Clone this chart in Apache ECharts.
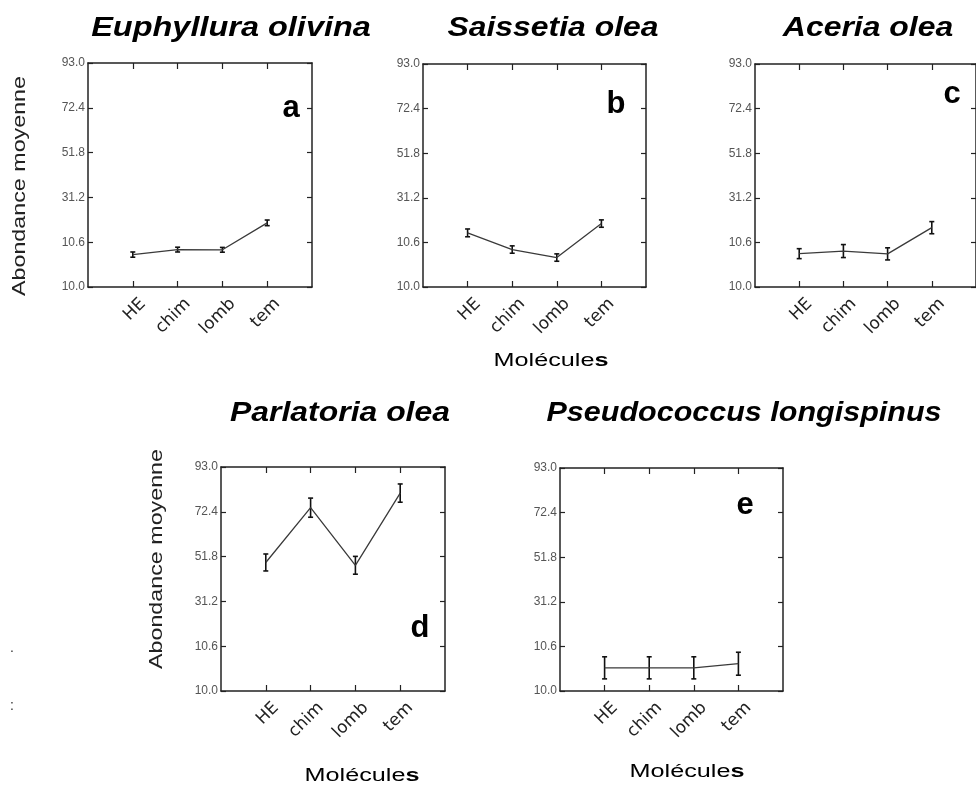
<!DOCTYPE html>
<html>
<head>
<meta charset="utf-8">
<script src="https://cdn.jsdelivr.net/npm/echarts@6/dist/echarts.min.js"></script>
<style>
  html, body { margin: 0; padding: 0; background: #ffffff; }
  #chart { width: 976px; height: 789px; }
</style>
</head>
<body>
<div id="chart"></div>
<script>
// Treatments (molecules) shown on every panel
const categories = ['HE', 'chim', 'lomb', 'tem'];

// Shared value axis: ticks and the text printed beside them
const yTickValues = [-10.0, 10.6, 31.2, 51.8, 72.4, 93.0];
const yTickLabels = ['10.0', '10.6', '31.2', '51.8', '72.4', '93.0'];

// Species (panel titles) and panel letters
const species = ['Euphyllura olivina', 'Saissetia olea', 'Aceria olea', 'Parlatoria olea', 'Pseudococcus longispinus'];
const panelLetters = ['a', 'b', 'c', 'd', 'e'];

// Mean abundance per molecule and half-width of the interval
const meansEuphyllura = [4.9, 7.2, 7.1, 19.5];
const errEuphyllura   = [1.2, 1.1, 1.1, 1.3];
const meansSaissetia  = [15.0, 7.3, 3.6, 19.3];
const errSaissetia    = [1.8, 1.7, 1.7, 1.7];
const meansAceria     = [5.4, 6.6, 5.3, 17.4];
const errAceria       = [2.3, 3.0, 2.8, 2.8];
const meansParlatoria = [49.1, 74.3, 47.8, 81.0];
const errParlatoria   = [3.9, 4.4, 4.1, 4.2];
const meansPseudo     = [0.7, 0.7, 0.7, 2.6];
const errPseudo       = [5.1, 5.1, 5.1, 5.3];

const seriesMeans = [meansEuphyllura, meansSaissetia, meansAceria, meansParlatoria, meansPseudo];
const seriesErrs  = [errEuphyllura, errSaissetia, errAceria, errParlatoria, errPseudo];

// Panel placement (pixels)
const layout = [
  { grid: { left: 88,  top: 63,  width: 224, height: 224 }, title: [231, 28],  titleScale: 1.16, letter: [291, 108], yName: [20, 186],  xName: null },
  { grid: { left: 423, top: 64,  width: 223, height: 223 }, title: [553, 28],  titleScale: 1.14, letter: [616, 104], yName: null,       xName: [551, 361] },
  { grid: { left: 755, top: 64,  width: 224, height: 223 }, title: [868, 28],  titleScale: 1.14, letter: [952, 94],  yName: null,       xName: null },
  { grid: { left: 221, top: 467, width: 224, height: 224 }, title: [340, 413], titleScale: 1.14, letter: [420, 628], yName: [157, 559], xName: [362, 776] },
  { grid: { left: 560, top: 468, width: 223, height: 223 }, title: [744, 413], titleScale: 1.09, letter: [745, 505], yName: null,       xName: [687, 772] }
];

const AXIS_COLOR = '#222';
const catPositions = categories.map((c, i) => i + 1);

function yLabel(v) {
  const k = yTickValues.findIndex(t => Math.abs(t - v) < 1e-6);
  return k >= 0 ? yTickLabels[k] : '';
}

const grids = [], xAxes = [], yAxes = [], series = [], graphics = [];

layout.forEach((p, i) => {
  grids.push(Object.assign({ containLabel: false }, p.grid));

  const lineCommon = { show: true, onZero: false, lineStyle: { color: AXIS_COLOR, width: 1.5 } };
  const tickX = { show: true, inside: true, length: 6, customValues: catPositions, lineStyle: { color: AXIS_COLOR, width: 1.2 } };
  const tickY = { show: true, inside: true, length: 5, customValues: yTickValues, lineStyle: { color: AXIS_COLOR, width: 1.2 } };

  // bottom category axis (positions 1..4 inside a 0..5 frame)
  xAxes.push({
    gridIndex: i, type: 'value', min: 0, max: 5, position: 'bottom',
    axisLine: lineCommon, axisTick: tickX, splitLine: { show: false },
    axisLabel: {
      customValues: catPositions,
      formatter: v => categories[Math.round(v) - 1] || '',
      showMinLabel: true, showMaxLabel: true, hideOverlap: false,
      rotate: 45, margin: 4, fontSize: 17, fontFamily: 'DejaVu Sans',
      color: '#222', verticalAlign: 'top', lineHeight: 29
    }
  });
  // top mirror axis (ticks only)
  xAxes.push({
    gridIndex: i, type: 'value', min: 0, max: 5, position: 'top',
    axisLine: lineCommon, axisTick: tickX, axisLabel: { show: false }, splitLine: { show: false }
  });
  // left value axis
  yAxes.push({
    gridIndex: i, type: 'value', min: -10, max: 93, position: 'left',
    axisLine: lineCommon, axisTick: tickY, splitLine: { show: false },
    axisLabel: {
      customValues: yTickValues, formatter: yLabel, margin: 3,
      showMinLabel: true, showMaxLabel: true, hideOverlap: false,
      fontSize: 12, fontFamily: 'Liberation Sans', color: '#555'
    }
  });
  // right mirror axis (ticks only)
  yAxes.push({
    gridIndex: i, type: 'value', min: -10, max: 93, position: 'right',
    axisLine: lineCommon, axisTick: tickY, axisLabel: { show: false }, splitLine: { show: false }
  });

  const means = seriesMeans[i], errs = seriesErrs[i];

  series.push({
    type: 'line', xAxisIndex: 2 * i, yAxisIndex: 2 * i,
    data: means.map((m, k) => [catPositions[k], m]),
    symbol: 'none', silent: true, animation: false,
    lineStyle: { color: '#3a3a3a', width: 1.3 }
  });

  series.push({
    type: 'custom', xAxisIndex: 2 * i, yAxisIndex: 2 * i, animation: false, silent: true,
    data: means.map((m, k) => [catPositions[k], m - errs[k], m + errs[k]]),
    renderItem: function (params, api) {
      const lo = api.coord([api.value(0), api.value(1)]);
      const hi = api.coord([api.value(0), api.value(2)]);
      const c = 2.5;
      const st = { stroke: '#111', lineWidth: 1.6 };
      return {
        type: 'group',
        children: [
          { type: 'line', shape: { x1: lo[0], y1: lo[1], x2: hi[0], y2: hi[1] }, style: st },
          { type: 'line', shape: { x1: lo[0] - c, y1: lo[1], x2: lo[0] + c, y2: lo[1] }, style: st },
          { type: 'line', shape: { x1: hi[0] - c, y1: hi[1], x2: hi[0] + c, y2: hi[1] }, style: st }
        ]
      };
    }
  });

  // species title
  graphics.push({
    type: 'text', x: p.title[0], y: p.title[1], scaleX: p.titleScale,
    style: { text: species[i], font: 'italic bold 28px "Liberation Sans"', fill: '#000', textAlign: 'center', textVerticalAlign: 'middle' }
  });
  // panel letter
  graphics.push({
    type: 'text', x: p.letter[0], y: p.letter[1],
    style: { text: panelLetters[i], font: 'bold 31px "Liberation Sans"', fill: '#000', textAlign: 'center', textVerticalAlign: 'middle' }
  });
  if (p.yName) {
    graphics.push({
      type: 'text', x: p.yName[0], y: p.yName[1], rotation: Math.PI / 2, scaleX: 1.33,
      style: { text: 'Abondance moyenne', font: '17.5px "Liberation Sans"', fill: '#222', textAlign: 'center', textVerticalAlign: 'middle' }
    });
  }
  if (p.xName) {
    graphics.push({
      type: 'text', x: p.xName[0], y: p.xName[1], scaleX: 1.4,
      style: {
        text: '{n|Molécule}{b|s}', textAlign: 'center', textVerticalAlign: 'middle',
        rich: {
          n: { fontSize: 18, fontFamily: 'Liberation Sans', color: '#2a2a2a' },
          b: { fontSize: 18, fontFamily: 'Liberation Sans', fontWeight: 'bold', color: '#000' }
        }
      }
    });
  }
});

// stray punctuation in the left margin
graphics.push({ type: 'text', x: 12, y: 648, style: { text: '.', font: '14px "Liberation Sans"', fill: '#333', textAlign: 'center', textVerticalAlign: 'middle' } });
graphics.push({ type: 'text', x: 12, y: 706, style: { text: ':', font: '14px "Liberation Sans"', fill: '#333', textAlign: 'center', textVerticalAlign: 'middle' } });

const chart = echarts.init(document.getElementById('chart'), null, { renderer: 'canvas' });
chart.setOption({
  backgroundColor: '#ffffff',
  animation: false,
  grid: grids,
  xAxis: xAxes,
  yAxis: yAxes,
  series: series,
  graphic: { elements: graphics }
});
</script>
</body>
</html>
